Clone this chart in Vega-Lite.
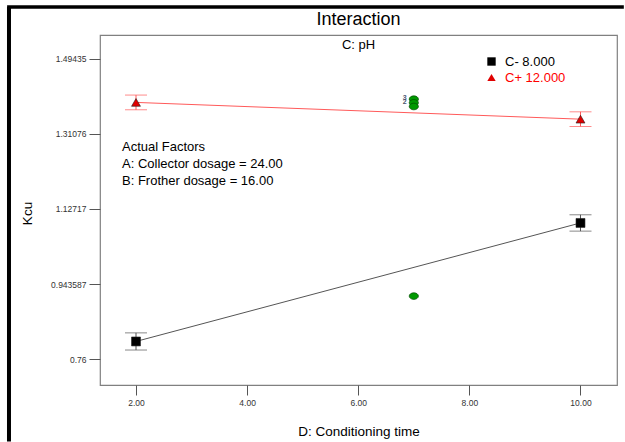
{
  "$schema": "https://vega.github.io/schema/vega-lite/v6.json",
  "width": 517,
  "height": 350,
  "autosize": {"type": "none"},
  "padding": {"left": 100, "top": 35, "right": 8, "bottom": 57},
  "background": "white",
  "config": {
    "font": "Liberation Sans",
    "view": {"stroke": "#808080", "strokeWidth": 1.2},
    "axis": {
      "grid": false,
      "domain": false,
      "tickColor": "#555555",
      "labelFont": "Liberation Sans",
      "labelFontSize": 8.5,
      "labelColor": "#333333",
      "titleFont": "Liberation Sans",
      "titleFontSize": 13.5,
      "titleFontWeight": "normal",
      "titleColor": "#000000"
    }
  },
  "datasets": {
    "means": [
      {"series": "C- 8.000", "time": 2, "kcu": 0.803, "lo": 0.782, "hi": 0.824},
      {"series": "C- 8.000", "time": 10, "kcu": 1.093, "lo": 1.073, "hi": 1.113},
      {"series": "C+ 12.000", "time": 2, "kcu": 1.388, "lo": 1.370, "hi": 1.406},
      {"series": "C+ 12.000", "time": 10, "kcu": 1.347, "lo": 1.329, "hi": 1.365}
    ],
    "design": [
      {"time": 7, "kcu": 1.396, "n": "3"},
      {"time": 7, "kcu": 1.387, "n": "2"},
      {"time": 7, "kcu": 1.378, "n": ""},
      {"time": 7, "kcu": 0.914, "n": ""}
    ]
  },
  "layer": [
    {
      "data": {"values": [{}]},
      "mark": {"type": "rule", "stroke": "#000000", "strokeWidth": 4, "clip": false},
      "encoding": {
        "x": {"datum": -0.286, "type": "quantitative"},
        "y": {"datum": 1.6215, "type": "quantitative"},
        "y2": {"datum": 0.558}
      }
    },
    {
      "data": {"values": [{}]},
      "mark": {"type": "rect", "fill": "#000000", "strokeWidth": 0, "clip": false},
      "encoding": {
        "x": {"datum": -0.32, "type": "quantitative"},
        "x2": {"datum": 10.78},
        "y": {"datum": 1.6258, "type": "quantitative"},
        "y2": {"datum": 1.6172}
      }
    },
    {
      "data": {"name": "means"},
      "mark": {"type": "line", "strokeWidth": 1},
      "encoding": {
        "x": {"field": "time", "type": "quantitative", "scale": {"domain": [1.352, 10.657], "nice": false, "zero": false},
          "axis": {"values": [2, 4, 6, 8, 10], "format": ".2f", "tickSize": 10, "labelPadding": 3, "title": "D: Conditioning time", "titleY": 46, "titleBaseline": "middle"}},
        "y": {"field": "kcu", "type": "quantitative", "scale": {"domain": [0.6964, 1.553], "nice": false, "zero": false},
          "axis": {"values": [0.76, 0.943587, 1.12717, 1.31076, 1.49435], "labelExpr": "'' + datum.value", "tickSize": 11, "labelPadding": 3, "title": "Kcu", "titleX": -73, "titleY": 178, "titleAngle": -90, "titleAlign": "center", "titleBaseline": "middle"}},
        "stroke": {"field": "series", "type": "nominal", "scale": {"domain": ["C+ 12.000", "C- 8.000"], "range": ["#ff5a5a", "#555555"]}, "legend": null}
      }
    },
    {
      "data": {"name": "means"},
      "mark": {"type": "rule", "strokeWidth": 1},
      "encoding": {
        "x": {"field": "time", "type": "quantitative"},
        "y": {"field": "lo", "type": "quantitative"},
        "y2": {"field": "hi"},
        "stroke": {"field": "series", "type": "nominal", "legend": null}
      }
    },
    {
      "data": {"name": "means"},
      "mark": {"type": "tick", "orient": "horizontal", "size": 22, "thickness": 1},
      "encoding": {
        "x": {"field": "time", "type": "quantitative"},
        "y": {"field": "lo", "type": "quantitative"},
        "fill": {"field": "series", "type": "nominal", "scale": {"domain": ["C+ 12.000", "C- 8.000"], "range": ["#ff5a5a", "#555555"]}, "legend": null}
      }
    },
    {
      "data": {"name": "means"},
      "mark": {"type": "tick", "orient": "horizontal", "size": 22, "thickness": 1},
      "encoding": {
        "x": {"field": "time", "type": "quantitative"},
        "y": {"field": "hi", "type": "quantitative"},
        "fill": {"field": "series", "type": "nominal", "legend": null}
      }
    },
    {
      "data": {"name": "design"},
      "mark": {"type": "point", "filled": true, "shape": "M-1,0A1,0.72,0,1,1,1,0A1,0.72,0,1,1,-1,0Z", "size": 85, "fill": "#009900", "stroke": "#004d00", "strokeWidth": 0.7, "opacity": 1},
      "encoding": {
        "x": {"field": "time", "type": "quantitative"},
        "y": {"field": "kcu", "type": "quantitative"}
      }
    },
    {
      "data": {"name": "design"},
      "mark": {"type": "text", "fontSize": 7, "dx": -9, "dy": -1, "fill": "#4a5570", "fontWeight": "bold"},
      "encoding": {
        "x": {"field": "time", "type": "quantitative"},
        "y": {"field": "kcu", "type": "quantitative"},
        "text": {"field": "n"}
      }
    },
    {
      "data": {"name": "means"},
      "mark": {"type": "point", "filled": true, "size": 80, "stroke": "#222222", "strokeWidth": 0.6, "opacity": 1},
      "encoding": {
        "x": {"field": "time", "type": "quantitative"},
        "y": {"field": "kcu", "type": "quantitative"},
        "color": {"field": "series", "type": "nominal", "scale": {"domain": ["C- 8.000", "C+ 12.000"], "range": ["#000000", "#e00000"]},
          "legend": {"orient": "none", "legendX": 385, "legendY": 20, "title": null, "padding": 0, "labelFontSize": 13, "labelFont": "Liberation Sans", "labelOffset": 7, "rowPadding": 2, "symbolSize": 70, "symbolStrokeWidth": 0, "labelLimit": 200,
            "labelColor": {"expr": "datum.value === 'C+ 12.000' ? '#ff0000' : '#000000'"}}},
        "shape": {"field": "series", "type": "nominal", "scale": {"domain": ["C- 8.000", "C+ 12.000"], "range": ["square", "triangle-up"]}}
      }
    },
    {
      "data": {"values": [{}]},
      "mark": {"type": "text", "fontSize": 18, "align": "center", "baseline": "middle", "fill": "#000000"},
      "encoding": {
        "x": {"datum": 6.0045, "type": "quantitative"},
        "y": {"datum": 1.5897, "type": "quantitative"},
        "text": {"value": "Interaction"}
      }
    },
    {
      "data": {"values": [{}]},
      "mark": {"type": "text", "fontSize": 13, "align": "center", "baseline": "middle", "fill": "#000000"},
      "encoding": {
        "x": {"datum": 6.0045, "type": "quantitative"},
        "y": {"datum": 1.5285, "type": "quantitative"},
        "text": {"value": "C: pH"}
      }
    },
    {
      "data": {"values": [{}]},
      "mark": {"type": "text", "fontSize": 13, "align": "left", "baseline": "middle", "lineHeight": 17, "fill": "#000000"},
      "encoding": {
        "x": {"datum": 1.748, "type": "quantitative"},
        "y": {"datum": 1.2788, "type": "quantitative"},
        "text": {"value": ["Actual Factors", "A: Collector dosage = 24.00", "B: Frother dosage = 16.00"]}
      }
    }
  ]
}
